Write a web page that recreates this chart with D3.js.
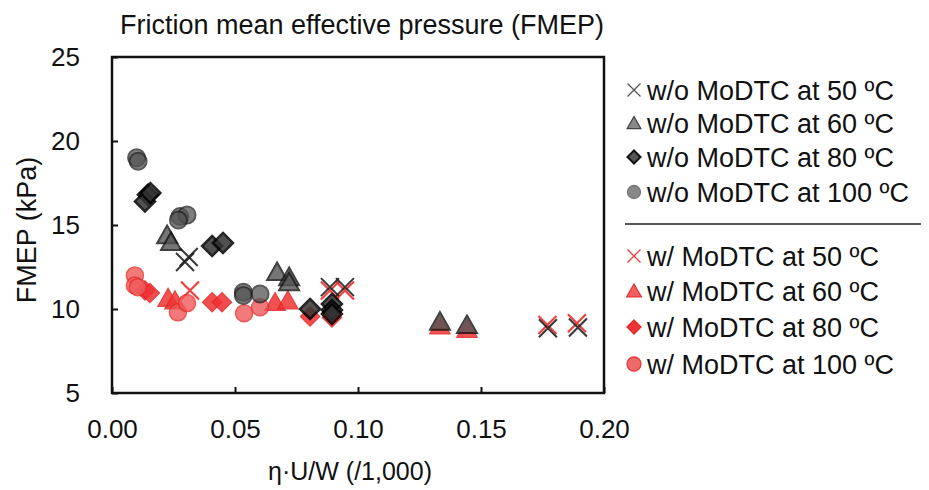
<!DOCTYPE html>
<html>
<head>
<meta charset="utf-8">
<script src="https://cdn.jsdelivr.net/npm/d3@7"></script>
<style>
  body { margin: 0; background: #fff; }
  svg text { font-family: "Liberation Sans", Arial, sans-serif; fill: #111; }
</style>
</head>
<body>
<svg id="chart" width="929" height="490"></svg>
<script>
// data: [x, FMEP]
const woX50 = [[0.0297, 12.8], [0.0312, 13.1], [0.0886, 11.3], [0.0947, 11.3], [0.1772, 8.85], [0.1894, 8.9]];
const woT60 = [[0.0224, 14.4], [0.0240, 14.0], [0.0671, 12.2], [0.0720, 11.9], [0.0720, 11.6], [0.1333, 9.25], [0.1443, 9.05]];
const woD80 = [[0.0146, 16.8], [0.0134, 16.4], [0.0156, 16.9], [0.0407, 13.75], [0.0451, 13.93], [0.0805, 10.0], [0.0894, 10.3], [0.0894, 9.94], [0.0894, 9.7]];
const woC100 = [[0.0100, 19.0], [0.0106, 18.8], [0.0276, 15.5], [0.0305, 15.6], [0.0270, 15.3], [0.0534, 11.0], [0.0534, 10.8], [0.0602, 10.9]];
const wX50 = [[0.0317, 11.1], [0.0886, 11.1], [0.0947, 11.1], [0.1770, 9.05], [0.1890, 9.15]];
const wT60 = [[0.0228, 10.65], [0.0256, 10.5], [0.0663, 10.4], [0.0715, 10.5], [0.1333, 9.0], [0.1443, 8.8]];
const wD80 = [[0.0134, 11.1], [0.0154, 10.95], [0.0407, 10.4], [0.0447, 10.4], [0.0805, 9.55], [0.0894, 9.8], [0.0894, 9.5]];
const wC100 = [[0.0093, 12.0], [0.0093, 11.4], [0.0105, 11.3], [0.0268, 9.8], [0.0305, 10.35], [0.0537, 9.75], [0.0602, 10.1]];

const xTicks = [0, 0.05, 0.10, 0.15, 0.20];
const yTicks = [5, 10, 15, 20, 25];
const legendLabels = [
  "w/o MoDTC at 50 ºC", "w/o MoDTC at 60 ºC", "w/o MoDTC at 80 ºC", "w/o MoDTC at 100 ºC",
  "w/ MoDTC at 50 ºC", "w/ MoDTC at 60 ºC", "w/ MoDTC at 80 ºC", "w/ MoDTC at 100 ºC"
];

const svg = d3.select("#chart");
const L = 112, R = 604, T = 57, B = 393;

const x = d3.scaleLinear().domain([0, 0.2]).range([L, R]);
const y = d3.scaleLinear().domain([5, 25]).range([B, T]);

// title
svg.append("text").attr("x", 362).attr("y", 34).attr("text-anchor", "middle")
  .style("font-size", "27px").text("Friction mean effective pressure (FMEP)");

// frame
svg.append("rect").attr("x", L).attr("y", T).attr("width", R - L).attr("height", B - T)
  .attr("fill", "none").attr("stroke", "#111").attr("stroke-width", 2.5);

// axes (ticks point inward)
const xAxis = svg.append("g").attr("transform", `translate(0,${B})`)
  .call(d3.axisBottom(x).tickValues(xTicks).tickSizeInner(-6).tickSizeOuter(0)
    .tickPadding(27).tickFormat(d3.format(".2f")));
const yAxis = svg.append("g").attr("transform", `translate(${L},0)`)
  .call(d3.axisLeft(y).tickValues(yTicks).tickSizeInner(-6).tickSizeOuter(0)
    .tickPadding(32).tickFormat(d3.format("d")));
[xAxis, yAxis].forEach(a => {
  a.select(".domain").remove();
  a.selectAll("line").attr("stroke", "#111").attr("stroke-width", 2);
  a.selectAll("text").style("font-size", "26px").attr("fill", "#111");
});

// axis titles
svg.append("text").attr("x", 350).attr("y", 480).attr("text-anchor", "middle")
  .style("font-size", "25px").text("η·U/W (/1,000)");
svg.append("text").attr("transform", "translate(36,230) rotate(-90)").attr("text-anchor", "middle")
  .style("font-size", "27px").text("FMEP (kPa)");

// marker shapes
function xPath(s) {
  const h = s / 2;
  return `M${-h},${-h}L${h},${h}M${-h},${h}L${h},${-h}`;
}
function triPath(s) {
  const h = s / 2;
  return `M0,${-h}L${h * 1.05},${h * 0.85}L${-h * 1.05},${h * 0.85}Z`;
}
function diaPath(s) {
  const h = s / 2;
  return `M0,${-h}L${h},0L0,${h}L${-h},0Z`;
}
function circPath(s) {
  const r = s / 2;
  return `M${r},0A${r},${r} 0 1,1 ${-r},0A${r},${r} 0 1,1 ${r},0Z`;
}

const series = [
  { data: wX50, shape: xPath, size: 18, fill: "none", stroke: "#ee2a2a", sw: 2.2, op: 0.9 },
  { data: wT60, shape: triPath, size: 19, fill: "#ee3535", stroke: "#e52626", sw: 1.5, op: 0.85 },
  { data: wD80, shape: diaPath, size: 19, fill: "#ee3030", stroke: "#e52626", sw: 1.5, op: 0.85 },
  { data: wC100, shape: circPath, size: 17, fill: "#f05a5a", stroke: "#e53030", sw: 1.5, op: 0.8 },
  { data: woX50, shape: xPath, size: 18, fill: "none", stroke: "#222", sw: 2, op: 0.9 },
  { data: woT60, shape: triPath, size: 19, fill: "#555", stroke: "#111", sw: 2, op: 0.8 },
  { data: woD80, shape: diaPath, size: 20, fill: "#333", stroke: "#000", sw: 2.5, op: 0.85 },
  { data: woC100, shape: circPath, size: 17, fill: "#555", stroke: "#222", sw: 2, op: 0.75 }
];

series.forEach(s => {
  svg.append("g").selectAll("path").data(s.data).enter().append("path")
    .attr("transform", d => `translate(${x(d[0])},${y(d[1])})`)
    .attr("d", s.shape(s.size))
    .attr("fill", s.fill).attr("stroke", s.stroke)
    .attr("stroke-width", s.sw).attr("opacity", s.op);
});

// legend
const legendY = [90, 123, 157, 192, 256, 291, 327, 364];
const legendMarks = [
  { shape: xPath, size: 13, fill: "none", stroke: "#555", sw: 1.3 },
  { shape: triPath, size: 13, fill: "#888", stroke: "#444", sw: 1.3 },
  { shape: diaPath, size: 13, fill: "#555", stroke: "#111", sw: 2 },
  { shape: circPath, size: 13, fill: "#888", stroke: "#777", sw: 1.3 },
  { shape: xPath, size: 13, fill: "none", stroke: "#f03a3a", sw: 1.3 },
  { shape: triPath, size: 14, fill: "#f06060", stroke: "#e53535", sw: 1.3 },
  { shape: diaPath, size: 14, fill: "#ee3535", stroke: "#e52a2a", sw: 1.3 },
  { shape: circPath, size: 14, fill: "#f06a6a", stroke: "#e53a3a", sw: 1.3 }
];
const leg = svg.append("g").selectAll("g").data(legendLabels).enter().append("g")
  .attr("transform", (d, i) => `translate(0,${legendY[i]})`);
leg.append("path")
  .attr("transform", "translate(634,0)")
  .attr("d", (d, i) => legendMarks[i].shape(legendMarks[i].size))
  .attr("fill", (d, i) => legendMarks[i].fill)
  .attr("stroke", (d, i) => legendMarks[i].stroke)
  .attr("stroke-width", (d, i) => legendMarks[i].sw);
leg.append("text").attr("x", 647).attr("y", 10).style("font-size", "27px").text(d => d);

svg.append("line").attr("x1", 625).attr("x2", 921).attr("y1", 224).attr("y2", 224)
  .attr("stroke", "#222").attr("stroke-width", 1.5);
</script>
</body>
</html>
